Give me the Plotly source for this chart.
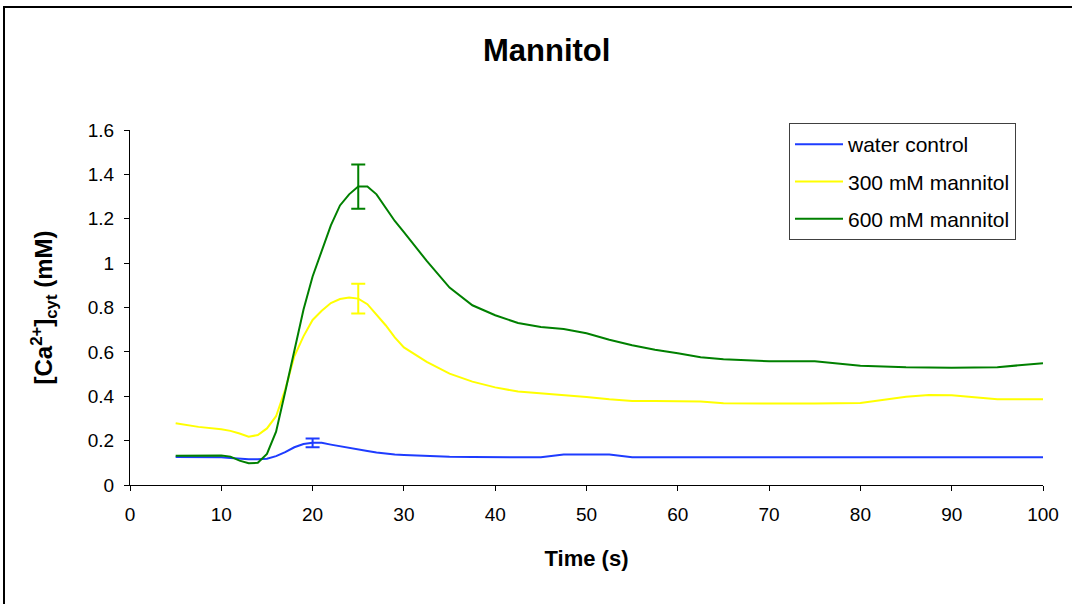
import plotly.graph_objects as go

time_s = [5, 7.5, 10, 11, 12, 13, 14, 15, 16, 17, 18, 19, 20, 21, 22, 23, 24, 25, 26, 27, 28, 29, 30,
          32.5, 35, 37.5, 40, 42.5, 45, 47.5, 50, 52.5, 55, 57.5, 60, 62.5, 65, 67.5, 70, 75, 80,
          85, 87.5, 90, 95, 100]

water_control = [0.126, 0.126, 0.125, 0.122, 0.118, 0.116, 0.116, 0.118, 0.130, 0.148, 0.170, 0.185,
                 0.190, 0.190, 0.182, 0.174, 0.166, 0.160, 0.153, 0.146, 0.140, 0.137, 0.135,
                 0.130, 0.127, 0.126, 0.125, 0.125, 0.125, 0.137, 0.137, 0.137, 0.125, 0.125, 0.125,
                 0.125, 0.125, 0.125, 0.125, 0.125, 0.125, 0.125, 0.125, 0.125, 0.125, 0.125]

mannitol_300 = [0.278, 0.262, 0.251, 0.244, 0.232, 0.218, 0.225, 0.255, 0.310, 0.430, 0.580, 0.670,
                0.744, 0.785, 0.820, 0.838, 0.845, 0.840, 0.815, 0.770, 0.720, 0.665, 0.620,
                0.555, 0.502, 0.466, 0.440, 0.421, 0.414, 0.406, 0.397, 0.386, 0.379, 0.379, 0.379,
                0.376, 0.368, 0.367, 0.367, 0.367, 0.370, 0.398, 0.406, 0.405, 0.386, 0.386]

mannitol_600 = [0.132, 0.132, 0.133, 0.128, 0.110, 0.098, 0.100, 0.140, 0.240, 0.420, 0.610, 0.790,
                0.940, 1.060, 1.170, 1.260, 1.310, 1.345, 1.345, 1.310, 1.250, 1.190, 1.140,
                1.010, 0.890, 0.810, 0.765, 0.730, 0.712, 0.703, 0.684, 0.655, 0.630, 0.610, 0.594,
                0.576, 0.567, 0.563, 0.558, 0.558, 0.538, 0.531, 0.530, 0.529, 0.531, 0.549]

# error bars (one point per series)
err_time = [20, 25, 25]
err_value = [0.19, 0.84, 1.345]
err_size = [0.02, 0.067, 0.10]

names = ["water control", "300 mM mannitol", "600 mM mannitol"]
colors = ["#1E3CFF", "#FFFF00", "#008000"]
series = [water_control, mannitol_300, mannitol_600]

font_family = "Arial, Liberation Sans, sans-serif"

fig = go.Figure()
for i, (nm, col, ys) in enumerate(zip(names, colors, series)):
    fig.add_trace(go.Scatter(x=time_s, y=ys, mode="lines", name=nm,
                             line=dict(color=col, width=2), legendgroup=f"g{i}"))
for i in range(3):
    fig.add_trace(go.Scatter(x=[err_time[i]], y=[err_value[i]], mode="lines",
                             showlegend=False, line=dict(color=colors[i], width=2),
                             error_y=dict(type="data", array=[err_size[i]], color=colors[i],
                                          thickness=2, width=7)))

fig.update_layout(
    width=1072, height=604,
    margin=dict(l=130, r=29, t=130, b=119),
    paper_bgcolor="white", plot_bgcolor="white",
    font=dict(family=font_family, color="black", size=19),
    title=dict(text="<b>Mannitol</b>", x=0.51, xref="container", xanchor="center",
               y=0.917, yref="container", yanchor="middle",
               font=dict(size=31, family=font_family, color="black")),
    showlegend=True,
    legend=dict(x=0.7218, y=1.0197, xanchor="left", yanchor="top",
                bordercolor="#404040", borderwidth=1, bgcolor="white",
                font=dict(size=21, family=font_family, color="black"),
                itemwidth=48, tracegroupgap=7),
    xaxis=dict(range=[0, 100], dtick=10, tick0=0, showgrid=False, zeroline=False,
               showline=True, linecolor="black", linewidth=1,
               ticks="outside", ticklen=5, tickcolor="black",
               tickfont=dict(size=19), ticklabelstandoff=7,
               title=dict(text="<b>Time (s)</b>", font=dict(size=22), standoff=26)),
    yaxis=dict(range=[0, 1.6], dtick=0.2, tick0=0, showgrid=False, zeroline=False,
               showline=True, linecolor="black", linewidth=1,
               ticks="outside", ticklen=5, tickcolor="black",
               tickfont=dict(size=19), ticklabelstandoff=6,
               title=dict(text="<b>[Ca<sup>2+</sup>]<sub>cyt</sub> (mM)</b>",
                          font=dict(size=24), standoff=28)),
    shapes=[dict(type="rect", xref="paper", yref="paper",
                 x0=(4 - 130) / 913, x1=1.2, y0=-0.6, y1=(485 - 7) / 355,
                 line=dict(color="black", width=2), fillcolor="rgba(0,0,0,0)", layer="below")],
)

fig.write_html("out.html")
